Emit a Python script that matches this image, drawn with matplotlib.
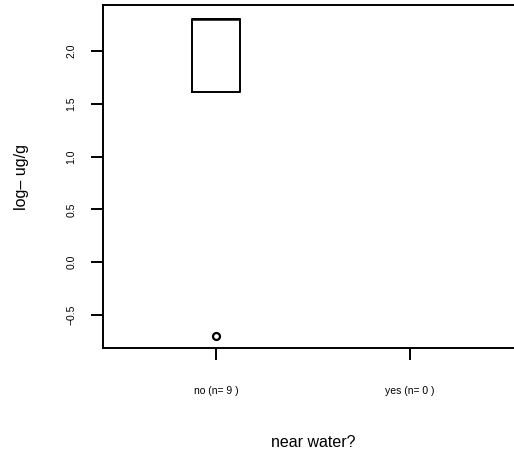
import numpy as np
import matplotlib
matplotlib.use("Agg")
import matplotlib.pyplot as plt

plt.rcParams['font.family'] = ['Liberation Sans', 'DejaVu Sans']

# log concentrations per group
groups = ["no", "yes"]
no_vals = [-0.70, 1.61, 1.61, 1.61, 2.30, 2.30, 2.30, 2.30, 2.30]
yes_vals = []
tick_labels = [f"{g} (n= {len(v)} )" for g, v in zip(groups, [no_vals, yes_vals])]

fig = plt.figure(figsize=(5.14, 4.54), dpi=100)
ax = fig.add_axes([103/514, 1 - 348/454, 1 - 103/514, (348 - 5)/454])

lw = 1.4
ax.boxplot([no_vals], positions=[1], widths=0.25, whis=1.5, showcaps=False,
           boxprops=dict(color="black", linewidth=lw),
           medianprops=dict(color="black", linewidth=1.8, snap=True),
           whiskerprops=dict(color="black", linewidth=lw, linestyle="--"),
           flierprops=dict(marker="o", markerfacecolor="white", markeredgecolor="black",
                           markersize=5, markeredgewidth=1.6))

ax.set_xlim(0.417, 2.536)
ax.set_ylim(-0.813, 2.436)
ax.set_xticks([1, 2])
ax.set_xticklabels(tick_labels, fontsize=7.5)
ax.set_yticks([-0.5, 0.0, 0.5, 1.0, 1.5, 2.0])
ax.set_yticklabels(["\u22120.5", "0.0", "0.5", "1.0", "1.5", "2.0"], fontsize=7.5, rotation=90, va="center")

ax.spines["right"].set_visible(False)
for s in ["left", "top", "bottom"]:
    ax.spines[s].set_linewidth(lw)
ax.tick_params(direction="out", length=8.5, width=lw)
ax.tick_params(axis="x", pad=19)
ax.tick_params(axis="y", pad=10.5)

ax.set_xlabel("near water?", fontsize=11.5)
ax.xaxis.set_label_coords(0.511, -0.254)
ax.set_ylabel("log\u2013 ug/g", fontsize=11.5, labelpad=27)

fig.savefig("out.png", dpi=100)
